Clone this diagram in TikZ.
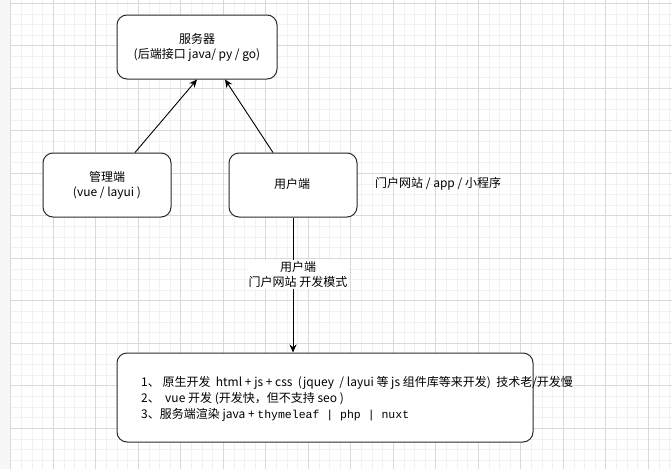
\documentclass[tikz,border=0pt]{standalone}
\usepackage{fontspec}
\setmainfont{Noto Sans CJK SC}
\newfontfamily\monof{Liberation Mono}
\usetikzlibrary{arrows.meta}
\definecolor{minorc}{HTML}{F1F1F1}
\definecolor{majorc}{HTML}{D9D9D9}
\definecolor{edgec}{HTML}{2B2B2B}
\tikzset{
  box/.style={draw=edgec, line width=1pt, rounded corners=10pt, fill=white, inner sep=0pt},
  lbl/.style={font=\fontsize{12}{15.5}\selectfont, align=center, inner sep=1pt},
  conn/.style={draw=black, line width=0.9pt, -{Stealth[length=8pt,width=7pt]}},
}
\begin{document}
\begin{tikzpicture}[x=1pt,y=-1pt]
\useasboundingbox (0,0) rectangle (672,469);
\fill[white] (0,0) rectangle (672,469);
\fill[black!3] (0,0) rectangle (10.8,469);
% minor grid
\foreach \i in {0,...,62} {
  \draw[minorc, line width=0.8pt] ({10.8+\i*10.625},0) -- ({10.8+\i*10.625},469);
}
\foreach \j in {0,...,44} {
  \draw[minorc, line width=0.8pt] (10.8,{3.3+\j*10.625}) -- (672,{3.3+\j*10.625});
}
% major grid
\foreach \i in {0,...,15} {
  \draw[majorc, line width=0.8pt] ({10.8+\i*42.5},0) -- ({10.8+\i*42.5},469);
}
\foreach \j in {0,...,11} {
  \draw[majorc, line width=0.8pt] (10.8,{3.3+\j*42.5}) -- (672,{3.3+\j*42.5});
}
% nodes
\node[box, minimum width=160pt, minimum height=64pt] (server) at (197,47) {};
\node[lbl] (servert) at (197,47.5) {服务器\\(后端接口 java/ py / go)};
\node[box, minimum width=128pt, minimum height=64pt] (admin) at (107,185) {};
\node[lbl] (admint) at (107,185.5) {管理端\\(vue / layui )};
\node[box, minimum width=128pt, minimum height=64pt] (user) at (293,185) {};
\node[lbl] (usert) at (292,184) {用户端};
\node[lbl, anchor=west] (portal) at (374,184) {门户网站 / app / 小程序};
\node[box, minimum width=416pt, minimum height=89pt] (dev) at (325,397.5) {};
\node[lbl, anchor=west, align=left, font=\fontsize{12}{16.2}\selectfont] (devt) at (140,399) {1、 原生开发 \ html + js + css \ (jquey \ / layui 等 js 组件库等来开发) \ 技术老/开发慢\\
2、 \ vue 开发 (开发快，但不支持 seo )\\
3、服务端渲染 java + {\monof\fontsize{11.5}{16.2}\selectfont thymeleaf | php | nuxt}};
% connectors
\draw[conn] ([xshift=28pt]admin.north) -- ([xshift=0pt]server.south);
\draw[conn] ([xshift=-20pt]user.north) -- ([xshift=28pt]server.south);
\draw[conn] (user.south) -- (user.south |- dev.north)
  node[pos=0.42, lbl, fill=white, xshift=5pt] (mode) {用户端\\门户网站 开发模式};
\end{tikzpicture}
\end{document}
